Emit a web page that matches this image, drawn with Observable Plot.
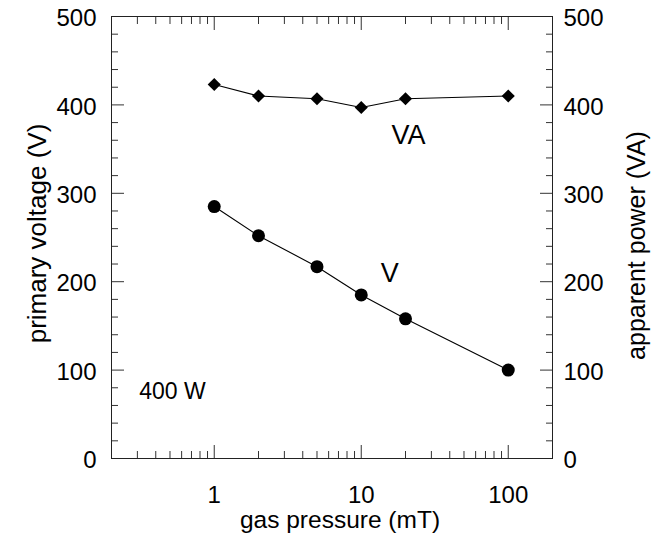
<!DOCTYPE html>
<html><head>
<meta charset="utf-8">
<script src="https://cdn.jsdelivr.net/npm/d3@7"></script>
<script src="https://cdn.jsdelivr.net/npm/@observablehq/plot@0.6"></script>
<style>body{margin:0;background:#fff} svg{font-family:"Liberation Sans",Arial,sans-serif}</style>
</head><body><div id="chart"></div>
<script>
const pressure = [1, 2, 5, 10, 20, 100];
const voltage = [285, 252, 217, 185, 158, 100];
const apparentPower = [423, 410, 407, 397, 407, 410];
const xMajorTicks = [1, 10, 100];
const xMinorTicks = [0.3, 0.4, 0.5, 0.6, 0.7, 0.8, 0.9, 2, 3, 4, 5, 6, 7, 8, 9, 20, 30, 40, 50, 60, 70, 80, 90];
const yMajorTicks = [0, 100, 200, 300, 400, 500];
const yMinorTicks = [20, 40, 60, 80, 120, 140, 160, 180, 220, 240, 260, 280, 320, 340, 360, 380, 420, 440, 460, 480];
const annotations = [
  {text: "VA", x: 21, y: 365, size: 27, anchor: "middle"},
  {text: "V", x: 15.6, y: 210, size: 27, anchor: "middle"},
  {text: "400 W", x: 0.52, y: 76, size: 23, anchor: "start"}
];
const xLabel = "gas pressure (mT)";
const yLeftLabel = "primary voltage (V)";
const yRightLabel = "apparent power (VA)";

const vData = pressure.map((p, i) => ({p, v: voltage[i]}));
const vaData = pressure.map((p, i) => ({p, v: apparentPower[i]}));

const tickFs = 24;
const tickColor = "#333";
const chart = Plot.plot({
  width: 651, height: 539,
  marginLeft: 111, marginRight: 99, marginTop: 16, marginBottom: 81,
  style: {fontFamily: "Liberation Sans, Arial, sans-serif", background: "#fff", color: "#000"},
  x: {type: "log", domain: [0.2, 200], axis: null},
  y: {domain: [0, 500], axis: null},
  marks: [
    // inward ticks
    Plot.axisX(xMajorTicks, {anchor: "bottom", tickSize: -13, tickFormat: () => "", stroke: tickColor}),
    Plot.axisX(xMinorTicks, {anchor: "bottom", tickSize: -7, tickFormat: () => "", stroke: tickColor}),
    Plot.axisX(xMajorTicks, {anchor: "top", tickSize: -13, tickFormat: () => "", stroke: tickColor}),
    Plot.axisX(xMinorTicks, {anchor: "top", tickSize: -7, tickFormat: () => "", stroke: tickColor}),
    Plot.axisY(yMajorTicks, {anchor: "left", tickSize: -13, tickFormat: () => "", stroke: tickColor}),
    Plot.axisY(yMinorTicks, {anchor: "left", tickSize: -7, tickFormat: () => "", stroke: tickColor}),
    Plot.axisY(yMajorTicks, {anchor: "right", tickSize: -13, tickFormat: () => "", stroke: tickColor}),
    Plot.axisY(yMinorTicks, {anchor: "right", tickSize: -7, tickFormat: () => "", stroke: tickColor}),
    // tick labels
    Plot.axisX(xMajorTicks, {anchor: "bottom", tickSize: 0, tickPadding: 27, fontSize: tickFs, tickFormat: d => String(d), label: null}),
    Plot.axisY(yMajorTicks, {anchor: "left", tickSize: 0, tickPadding: 15, dy: 2, fontSize: tickFs, tickFormat: d => String(d), label: null}),
    Plot.axisY(yMajorTicks, {anchor: "right", tickSize: 0, tickPadding: 11, dy: 2, fontSize: tickFs, tickFormat: d => String(d), label: null}),
    Plot.frame({stroke: "#222"}),
    // axis labels
    Plot.text([xLabel], {frameAnchor: "bottom", dy: 62, dx: 8, fontSize: 24.5, lineAnchor: "middle", textAnchor: "middle", text: d => d}),
    Plot.text([yLeftLabel], {frameAnchor: "left", dx: -74, dy: -4, rotate: -90, fontSize: 26, textAnchor: "middle", lineAnchor: "middle", text: d => d}),
    Plot.text([yRightLabel], {frameAnchor: "right", dx: 84, dy: 8, rotate: -90, fontSize: 25, textAnchor: "middle", lineAnchor: "middle", text: d => d}),
    // data
    Plot.line(vaData, {x: "p", y: "v", stroke: "#000", strokeWidth: 1.1}),
    Plot.dot(vaData, {x: "p", y: "v", symbol: "diamond2", r: 5.9, fill: "#000", stroke: "none"}),
    Plot.line(vData, {x: "p", y: "v", stroke: "#000", strokeWidth: 1.1}),
    Plot.dot(vData, {x: "p", y: "v", r: 6.5, fill: "#000", stroke: "none"}),
    // annotations
    Plot.text(annotations, {x: "x", y: "y", text: "text", fontSize: d => d.size, textAnchor: d => d.anchor}),
  ]
});
document.getElementById("chart").append(chart);
</script>
</body></html>
